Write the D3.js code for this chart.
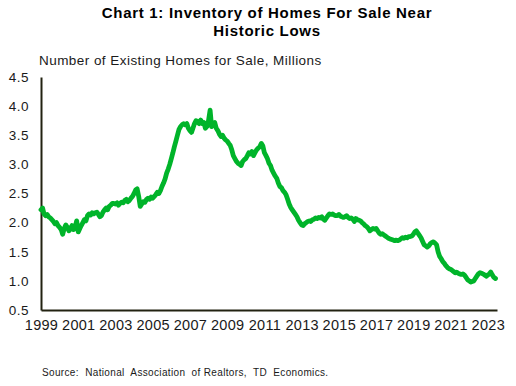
<!DOCTYPE html>
<html>
<head>
<meta charset="utf-8">
<script src="https://cdn.jsdelivr.net/npm/d3@7"></script>
<style>
  body { margin: 0; background: #fff; }
  text { font-family: "Liberation Sans", Arial, sans-serif; }
</style>
</head>
<body>
<svg id="chart"></svg>
<script>
// Chart data: monthly inventory (millions), starting Jan 1999
const startYear = 1999;
const inventory = [
  2.22, 2.25, 2.15, 2.12, 2.14, 2.10, 2.08, 2.05, 2.02, 1.98, 2.00, 1.95, // 1999
  1.92, 1.88, 1.80, 1.90, 1.96, 1.92, 1.86, 1.90, 1.95, 1.88, 1.92, 2.03, // 2000
  1.84, 1.90, 1.95, 2.00, 2.05, 2.03, 2.12, 2.15, 2.13, 2.17, 2.15, 2.17, // 2001
  2.18, 2.14, 2.10, 2.12, 2.18, 2.22, 2.25, 2.22, 2.28, 2.30, 2.33, 2.33, // 2002
  2.32, 2.34, 2.30, 2.33, 2.35, 2.34, 2.38, 2.40, 2.36, 2.38, 2.42, 2.45, // 2003
  2.50, 2.56, 2.58, 2.45, 2.28, 2.32, 2.36, 2.35, 2.40, 2.42, 2.40, 2.44, // 2004
  2.42, 2.45, 2.48, 2.52, 2.50, 2.55, 2.62, 2.68, 2.75, 2.85, 2.92, 3.00, // 2005
  3.10, 3.20, 3.30, 3.40, 3.50, 3.60, 3.65, 3.68, 3.70, 3.68, 3.70, 3.62, // 2006
  3.58, 3.55, 3.62, 3.70, 3.75, 3.72, 3.70, 3.76, 3.70, 3.72, 3.62, 3.65, // 2007
  3.75, 3.93, 3.65, 3.70, 3.72, 3.62, 3.58, 3.52, 3.48, 3.50, 3.45, 3.42, // 2008
  3.40, 3.36, 3.33, 3.25, 3.15, 3.10, 3.05, 3.02, 3.00, 2.98, 3.05, 3.08, // 2009
  3.10, 3.15, 3.20, 3.18, 3.22, 3.15, 3.20, 3.25, 3.28, 3.30, 3.36, 3.32, // 2010
  3.20, 3.15, 3.10, 3.02, 2.98, 2.90, 2.85, 2.80, 2.76, 2.68, 2.62, 2.60, // 2011
  2.55, 2.52, 2.48, 2.40, 2.32, 2.26, 2.22, 2.18, 2.14, 2.10, 2.04, 2.00, // 2012
  1.96, 1.95, 1.98, 2.00, 2.02, 2.03, 2.02, 2.05, 2.06, 2.08, 2.07, 2.09, // 2013
  2.08, 2.10, 2.06, 2.04, 2.08, 2.12, 2.15, 2.14, 2.15, 2.13, 2.12, 2.12, // 2014
  2.14, 2.11, 2.10, 2.09, 2.10, 2.12, 2.09, 2.07, 2.08, 2.06, 2.02, 2.07, // 2015
  2.05, 2.04, 2.03, 2.00, 1.98, 1.95, 1.93, 1.90, 1.86, 1.88, 1.90, 1.89, // 2016
  1.90, 1.86, 1.82, 1.80, 1.81, 1.79, 1.77, 1.75, 1.73, 1.72, 1.71, 1.70, // 2017
  1.69, 1.70, 1.69, 1.70, 1.72, 1.74, 1.73, 1.75, 1.74, 1.76, 1.76, 1.77, // 2018
  1.80, 1.84, 1.86, 1.82, 1.78, 1.74, 1.68, 1.62, 1.60, 1.58, 1.60, 1.64, // 2019
  1.66, 1.67, 1.65, 1.62, 1.50, 1.42, 1.38, 1.33, 1.30, 1.26, 1.23, 1.21, // 2020
  1.20, 1.18, 1.16, 1.14, 1.15, 1.13, 1.12, 1.11, 1.12, 1.10, 1.06, 1.02, // 2021
  1.00, 0.98, 0.99, 1.00, 1.04, 1.08, 1.12, 1.14, 1.13, 1.12, 1.10, 1.08, // 2022
  1.10, 1.12, 1.15, 1.10, 1.06, 1.04                                      // 2023
];
const yTicks = [0.5, 1.0, 1.5, 2.0, 2.5, 3.0, 3.5, 4.0, 4.5];
const xTickYears = d3.range(1999, 2024, 2);

const width = 516;
const height = 386;
const margin = { top: 77, left: 41, bottom: 76, right: 19 };

const svg = d3.select("#chart")
    .attr("width", width)
    .attr("height", height);

const data = inventory.map((v, i) => ({ date: new Date(startYear, i, 1), value: v }));

const x = d3.scaleTime()
    .domain([new Date(startYear, 0, 1), new Date(2023, 6, 1)])
    .range([margin.left, width - margin.right]);

const y = d3.scaleLinear()
    .domain([0.5, 4.5])
    .range([height - margin.bottom, margin.top]);

// Title
const title = svg.append("text")
    .attr("text-anchor", "middle")
    .attr("font-size", "15px")
    .attr("font-weight", "bold")
    .attr("letter-spacing", "0.7px")
    .attr("fill", "#000");
title.append("tspan").attr("x", 267).attr("y", 18).text("Chart 1: Inventory of Homes For Sale Near");
title.append("tspan").attr("x", 267).attr("y", 36).text("Historic Lows");

// Axis title
svg.append("text")
    .attr("x", 39)
    .attr("y", 65)
    .attr("font-size", "13.5px")
    .attr("letter-spacing", "0.45px")
    .attr("fill", "#1a1a1a")
    .text("Number of Existing Homes for Sale, Millions");

// Y axis
const yAxis = svg.append("g")
    .attr("transform", `translate(${margin.left},0)`)
    .call(d3.axisLeft(y).tickValues(yTicks).tickFormat(d3.format(".1f")).tickSize(0).tickPadding(12));
yAxis.select(".domain").attr("stroke", "#222211").attr("stroke-width", 2);
yAxis.selectAll("text").attr("font-size", "13.5px").attr("letter-spacing", "0.5px").attr("fill", "#1a1a1a");

// X axis
const xAxis = svg.append("g")
    .attr("transform", `translate(0,${height - margin.bottom})`)
    .call(d3.axisBottom(x)
        .tickValues(xTickYears.map(yr => new Date(yr, 0, 1)))
        .tickFormat(d3.timeFormat("%Y"))
        .tickSize(0)
        .tickPadding(10));
xAxis.select(".domain").attr("stroke", "#222211").attr("stroke-width", 2);
xAxis.selectAll("text").attr("font-size", "14.5px").attr("letter-spacing", "0.3px").attr("fill", "#1a1a1a");

// Line
const line = d3.line()
    .x(d => x(d.date))
    .y(d => y(d.value));

svg.append("path")
    .datum(data)
    .attr("d", line)
    .attr("fill", "none")
    .attr("stroke", "#00b42a")
    .attr("stroke-width", 4.8)
    .attr("stroke-linejoin", "round")
    .attr("stroke-linecap", "round");

// Source
svg.append("text")
    .attr("x", 42)
    .attr("y", 376)
    .attr("font-size", "10px")
    .attr("letter-spacing", "0.35px")
    .attr("fill", "#1a1a1a")
    .style("white-space", "pre")
    .text("Source:  National  Association  of Realtors,  TD  Economics.");
</script>
</body>
</html>
